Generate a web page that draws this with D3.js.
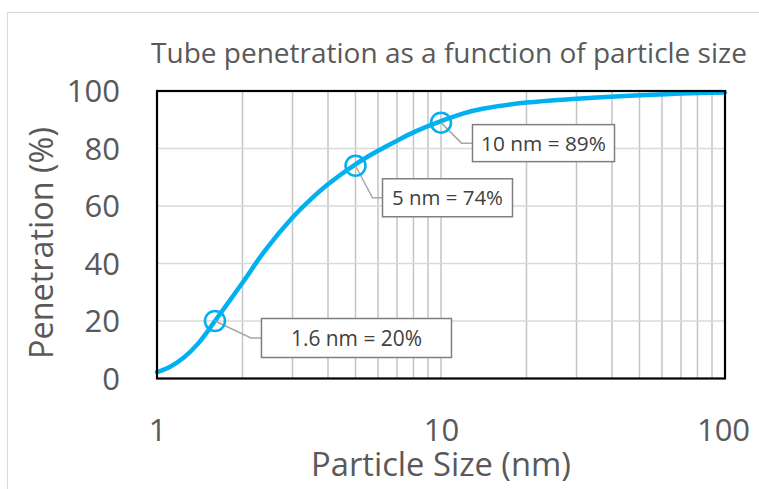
<!DOCTYPE html>
<html><head><meta charset="utf-8">
<script src="https://cdn.jsdelivr.net/npm/d3@7"></script>
<style>
html,body{margin:0;padding:0;background:#fff;}
svg{display:block;font-family:"Open Sans",sans-serif;}
</style></head>
<body>
<svg id="chart" width="759" height="489"></svg>
<script>
// ---- data ----
const sizes = [1, 1.1, 1.24, 1.4, 1.6, 1.8, 2.0, 2.4, 3.0, 3.5, 4, 5, 6, 7, 8, 10, 12, 14, 20, 30, 50, 70, 100];
const penetration = [2.2, 3.8, 7.2, 12.3, 20, 27, 33.3, 44.5, 56, 62.6, 67.6, 74.5, 79.2, 82.7, 85.6, 89.5, 92.2, 93.8, 96.0, 97.3, 98.5, 99.1, 99.5];
const markerSizes = [1.6, 5, 10];
const markerValues = [20, 74, 89];
const markerLabels = ["1.6 nm = 20%", "5 nm = 74%", "10 nm = 89%"];
const yTicks = [0, 20, 40, 60, 80, 100];
const xTicks = [1, 10, 100];
const title = "Tube penetration as a function of particle size";
const xTitle = "Particle Size (nm)";
const yTitle = "Penetration (%)";

// ---- layout (not data) ----
const plot = {left: 157, right: 725, top: 91, bottom: 378.5};
const callouts = [
  {bx: 46.5, by: -2.5, w: 190, h: 39, ex: 36, tw: 131},
  {bx: 27, by: 13, w: 130, h: 38, ex: 17, tw: 111},
  {bx: 31.5, by: 2, w: 142, h: 37, ex: 20.5, tw: 125}
];

function fit(sel, target) {
  sel.attr("font-size", 20);
  const w = sel.node().getComputedTextLength();
  sel.attr("font-size", 20 * target / w);
  return sel;
}

const svg = d3.select("#chart");
const x = d3.scaleLog().domain([1, 100]).range([plot.left, plot.right]);
const y = d3.scaleLinear().domain([0, 100]).range([plot.bottom, plot.top]);

// outer chart border
svg.append("rect").attr("x", 7.5).attr("y", 12.5).attr("width", 800).attr("height", 600)
  .attr("fill", "#fff").attr("stroke", "#d9d9d9").attr("stroke-width", 1);

// gridlines
const minor = [];
for (let dec of [1, 10]) for (let k = 2; k <= 9; k++) minor.push(dec * k);
minor.push(10);
svg.append("g").selectAll("line").data(minor).join("line")
  .attr("x1", d => x(d)).attr("x2", d => x(d))
  .attr("y1", plot.top).attr("y2", plot.bottom)
  .attr("stroke", "#c4c4c4").attr("stroke-width", 1.5);
svg.append("g").selectAll("line").data(yTicks.filter(d => d > 0 && d < 100)).join("line")
  .attr("x1", plot.left).attr("x2", plot.right)
  .attr("y1", d => y(d)).attr("y2", d => y(d))
  .attr("stroke", "#d9d9d9").attr("stroke-width", 1.5);

// axes via d3
const yAxis = svg.append("g").attr("transform", `translate(${plot.left},0)`)
  .call(d3.axisLeft(y).tickValues(yTicks).tickSize(0).tickPadding(37).tickFormat(d3.format("d")));
const xAxis = svg.append("g").attr("transform", `translate(0,${plot.bottom})`)
  .call(d3.axisBottom(x).tickValues(xTicks).tickSize(0).tickPadding(0).tickFormat(d3.format("d")));
[yAxis, xAxis].forEach(a => {
  a.select(".domain").remove();
  a.selectAll("text").attr("fill", "#595959").attr("font-size", 31).attr("font-family", "Open Sans, sans-serif");
});
xAxis.selectAll("text").attr("y", 62).attr("dy", null);
xAxis.selectAll(".tick").filter(d => d === 100).select("text").attr("dx", -2);
yAxis.selectAll("text").attr("dy", "0.35em");

// curve
const line = d3.line().x((d, i) => x(sizes[i])).y(d => y(d)).curve(d3.curveCatmullRom.alpha(0.5));
svg.append("path").datum(penetration).attr("d", line)
  .attr("fill", "none").attr("stroke", "#00b0f0").attr("stroke-width", 4.5)
  .attr("stroke-linecap", "round");

// plot border
svg.append("rect").attr("x", plot.left).attr("y", plot.top)
  .attr("width", plot.right - plot.left).attr("height", plot.bottom - plot.top)
  .attr("fill", "none").attr("stroke", "#000").attr("stroke-width", 2.2);

// callouts
markerSizes.forEach((s, i) => {
  const cx = x(s), cy = y(markerValues[i]);
  const c = callouts[i];
  const bx = cx + c.bx, by = cy + c.by, my = by + c.h / 2;
  svg.append("path").attr("d", `M${cx},${cy}L${cx + c.ex},${my}L${bx},${my}`)
    .attr("fill", "none").attr("stroke", "#a6a6a6").attr("stroke-width", 1.5);
  svg.append("circle").attr("cx", cx).attr("cy", cy).attr("r", 10)
    .attr("fill", "none").attr("stroke", "#00b0f0").attr("stroke-width", 2.5);
  svg.append("rect").attr("x", bx).attr("y", by).attr("width", c.w).attr("height", c.h)
    .attr("fill", "#fff").attr("stroke", "#7f7f7f").attr("stroke-width", 1.5);
  const t = svg.append("text").attr("x", bx + c.w / 2).attr("y", my).attr("dy", "0.36em")
    .attr("text-anchor", "middle").attr("fill", "#404040")
    .text(markerLabels[i]);
  fit(t, c.tw);
});

// titles
fit(svg.append("text").attr("x", 449).attr("y", 63).attr("text-anchor", "middle")
  .attr("fill", "#595959").text(title), 596);
fit(svg.append("text").attr("x", 441).attr("y", 476).attr("text-anchor", "middle")
  .attr("fill", "#595959").text(xTitle), 260);
fit(svg.append("text").attr("transform", "translate(53,243) rotate(-90)").attr("text-anchor", "middle")
  .attr("fill", "#595959").text(yTitle), 232);
</script>
</body></html>
